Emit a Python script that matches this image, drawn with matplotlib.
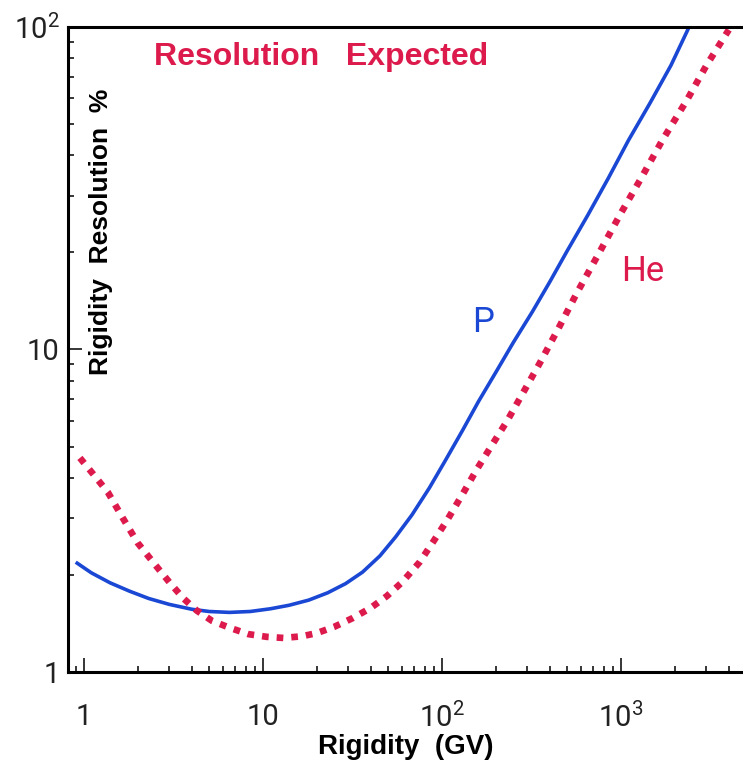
import matplotlib
matplotlib.use('Agg')
import matplotlib.pyplot as plt
from matplotlib.ticker import FixedLocator, FixedFormatter, LogLocator, NullFormatter

plt.rcParams['font.family'] = ['Roboto', 'DejaVu Sans']

# rigidity (GV) and resolution (%)
p_rig = [0.9, 1.1, 1.4, 1.8, 2.3, 3.0, 4.0, 5.0, 6.5, 8.5, 11, 14, 18, 23, 29, 36, 45,
         55, 68, 85, 105, 130, 160, 200, 250, 320, 400, 500, 650, 850, 1100, 1450,
         1900, 2380]
p_res = [2.19, 2.03, 1.89, 1.78, 1.69, 1.62, 1.565, 1.54, 1.53, 1.54, 1.57, 1.61, 1.67,
         1.76, 1.88, 2.04, 2.29, 2.62, 3.07, 3.72, 4.55, 5.6, 6.9, 8.5, 10.5, 13.1, 16.2,
         20.2, 26.0, 34.0, 44.5, 58.0, 76.0, 99.0]

he_rig = [0.95, 1.15, 1.36, 1.65, 2.0, 2.5, 3.02, 3.6, 4.27, 5.2, 6.54, 8.3, 10.5, 13,
          16.5, 20, 25, 31.8, 40, 49.3, 60, 75, 90, 107, 130, 157, 190, 231, 290, 352,
          450, 568, 750, 1000, 1277, 1700, 2337, 3000, 4000]
he_res = [4.61, 4.05, 3.61, 3.0, 2.51, 2.15, 1.89, 1.69, 1.55, 1.44, 1.37, 1.31, 1.285,
          1.275, 1.29, 1.32, 1.38, 1.47, 1.58, 1.72, 1.9, 2.19, 2.55, 2.96, 3.55, 4.26,
          5.05, 6.0, 7.5, 9.08, 11.7, 15.0, 19.8, 26.5, 33.5, 44.5, 59.4, 76.0, 98.0]

x_ticks = [1, 10, 100, 1000]
x_labels = ['1', '10', r'$\mathdefault{10^{2}}$', r'$\mathdefault{10^{3}}$']
y_ticks = [1, 10, 100]
y_labels = ['1', '10', r'$\mathdefault{10^{2}}$']

BLUE = '#1a48d4'
RED = '#dc1a4c'

fig = plt.figure(figsize=(7.43, 7.61), dpi=100)
ax = fig.add_axes([0.0915, 0.117, 0.9085, 0.8476])

ax.plot(p_rig, p_res, color=BLUE, lw=2.6, solid_capstyle='butt')
ax.plot(he_rig, he_res, color=RED, lw=4.8, dashes=(1.0, 1.2), dash_capstyle='butt')

ax.set_xscale('log')
ax.set_yscale('log')
ax.set_xlim(0.815, 4800)
ax.set_ylim(1, 100)

ax.xaxis.set_major_locator(FixedLocator(x_ticks))
ax.xaxis.set_major_formatter(FixedFormatter(x_labels))
ax.xaxis.set_minor_locator(LogLocator(base=10, subs=range(2, 10), numticks=20))
ax.xaxis.set_minor_formatter(NullFormatter())
ax.yaxis.set_major_locator(FixedLocator(y_ticks))
ax.yaxis.set_major_formatter(FixedFormatter(y_labels))
ax.yaxis.set_minor_locator(LogLocator(base=10, subs=range(2, 10), numticks=20))
ax.yaxis.set_minor_formatter(NullFormatter())

ax.tick_params(which='both', direction='in', top=False, right=False, width=1.1, color='black')
ax.tick_params(which='major', length=10, labelsize=21)
ax.tick_params(which='minor', length=4.5)
ax.tick_params(axis='x', which='major', pad=22)
ax.tick_params(axis='y', which='major', pad=6)
for lab in ax.get_xticklabels() + ax.get_yticklabels():
    lab.set_fontweight('normal')
    lab.set_color('#222222')

for side in ['left', 'bottom', 'top']:
    ax.spines[side].set_linewidth(2.2)
ax.spines['right'].set_visible(False)

ax.set_xlabel('Rigidity  (GV)', family='Liberation Sans', fontweight='bold',
              fontsize=20, labelpad=1)
ax.text(0.049, 0.46, 'Rigidity  Resolution  %', transform=ax.transAxes, rotation=90,
        ha='center', va='bottom', family='Liberation Sans', fontweight='bold', fontsize=19)
ax.text(0.375, 0.953, 'Resolution   Expected', transform=ax.transAxes, ha='center',
        va='center', family='Liberation Sans', fontweight='bold', fontsize=23, color=RED)
ax.text(169, 12.1, 'P', ha='center', va='center', fontsize=25, color=BLUE)
ax.text(1327, 17.4, 'He', ha='center', va='center', fontsize=25, color=RED)

fig.savefig('out.png', dpi=100)
